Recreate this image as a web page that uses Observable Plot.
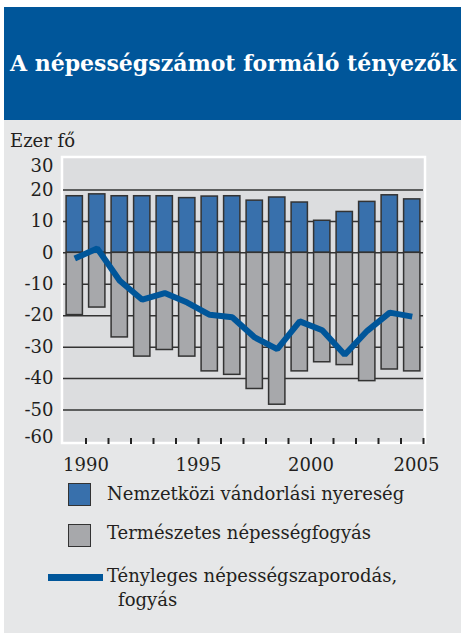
<!DOCTYPE html>
<html>
<head>
<meta charset="utf-8">
<script src="https://cdn.jsdelivr.net/npm/d3@7"></script>
<script src="https://cdn.jsdelivr.net/npm/@observablehq/plot@0.6"></script>
<style>
  html, body { margin: 0; padding: 0; background: #ffffff; }
  #page { position: relative; width: 461px; height: 635px; overflow: hidden; font-family: "DejaVu Serif", serif; color: #231f20; }
  #panel { position: absolute; left: 4px; top: 7px; width: 457px; height: 626px; background: #e6e7e8; }
  #title { position: absolute; left: 4px; top: 7px; width: 457px; height: 113px; background: #00569a; }
  #title span { position: absolute; left: 6px; top: 43px; font-weight: bold; font-size: 22px; color: #ffffff; white-space: nowrap; }
  #unit { position: absolute; left: 10px; top: 130px; font-size: 18px; }
  #chart { position: absolute; left: 0; top: 120px; }
  .leg { position: absolute; font-size: 18px; white-space: nowrap; }
  .sw { position: absolute; box-sizing: border-box; width: 23px; height: 23px; border: 1.5px solid #333; }
</style>
</head>
<body>
<div id="page">
  <div id="panel"></div>
  <div id="title"><span>A népességszámot formáló tényezők</span></div>
  <div id="unit">Ezer fő</div>
  <div id="chart"></div>
  <div class="sw" style="left:68px;top:483px;background:#3870ac"></div>
  <div class="leg" style="left:107px;top:483px">Nemzetközi vándorlási nyereség</div>
  <div class="sw" style="left:68px;top:524px;background:#a7a8ab"></div>
  <div class="leg" style="left:107px;top:522px">Természetes népességfogyás</div>
  <div style="position:absolute;left:48px;top:574px;width:55px;height:7px;background:#00569a"></div>
  <div class="leg" style="left:107px;top:565px">Tényleges népességszaporodás,</div>
  <div class="leg" style="left:118px;top:589px">fogyás</div>
</div>
<script>
const years = [1990,1991,1992,1993,1994,1995,1996,1997,1998,1999,2000,2001,2002,2003,2004,2005];
const migration = [18.0,18.6,18.0,18.0,18.0,17.4,17.9,18.0,16.6,17.6,16.0,10.2,13.0,16.2,18.3,17.0];
const natural = [-19.8,-17.4,-26.9,-33.0,-30.9,-33.0,-37.7,-38.8,-43.3,-48.3,-37.7,-34.8,-35.7,-40.8,-37.1,-37.7];
const net = [-1.8,1.4,-8.9,-14.9,-12.8,-15.8,-19.7,-20.5,-26.9,-30.6,-21.8,-24.6,-32.4,-24.8,-19.0,-20.3];
const gridValues = [20,10,0,-10,-20,-30,-40,-50];
const yTickLabels = [20,10,0,-10,-20,-30,-40,-50];
const xTickLabels = [1990,1995,2000];
const lastXLabel = [2005];

const rows = years.map((y, i) => ({year: y, migration: migration[i], natural: natural[i], net: net[i]}));

const chart = Plot.plot({
  width: 461,
  height: 360,
  marginLeft: 63,
  marginRight: 38,
  marginTop: 38,
  marginBottom: 39,
  style: {fontFamily: "DejaVu Serif, serif", fontSize: "18px", color: "#231f20", background: "transparent", overflow: "visible"},
  x: {domain: [1989, 2005], type: "linear"},
  y: {domain: [-60, 30]},
  marks: [
    Plot.frame({fill: "#dcdddf", stroke: "#ffffff", strokeWidth: 2.5, inset: -1.5}),
    Plot.ruleY(gridValues, {stroke: "#333333", strokeWidth: 1.5}),
    Plot.rect(rows, {x1: d => d.year - 1, x2: "year", y1: 0, y2: "migration", insetLeft: 3.1, insetRight: 3.1, fill: "#3870ac", stroke: "#333333", strokeWidth: 1.5}),
    Plot.rect(rows, {x1: d => d.year - 1, x2: "year", y1: 0, y2: "natural", insetLeft: 3.1, insetRight: 3.1, fill: "#a7a8ab", stroke: "#333333", strokeWidth: 1.5}),
    Plot.line(rows, {x: d => d.year - 0.5, y: "net", stroke: "#00569a", strokeWidth: 6, strokeLinejoin: "miter", strokeLinecap: "butt"}),
    Plot.axisY({ticks: yTickLabels, tickSize: 0, tickPadding: 10, label: null, tickFormat: d => String(d)}),
    Plot.axisY({ticks: [30], tickSize: 0, tickPadding: 10, dy: 8, label: null, tickFormat: d => String(d)}),
    Plot.axisY({ticks: [-60], tickSize: 0, tickPadding: 10, dy: -4, label: null, tickFormat: d => String(d)}),
    Plot.axisX({ticks: years, tickSize: 6, tickFormat: () => "", stroke: "#222222", strokeWidth: 2, dy: -3, label: null}),
    Plot.axisX({ticks: xTickLabels, tickSize: 0, tickPadding: 17, label: null, tickFormat: d => String(d)}),
    Plot.axisX({ticks: lastXLabel, tickSize: 0, tickPadding: 17, dx: -7, label: null, tickFormat: d => String(d)})
  ]
});
document.getElementById("chart").appendChild(chart);
</script>
</body>
</html>
